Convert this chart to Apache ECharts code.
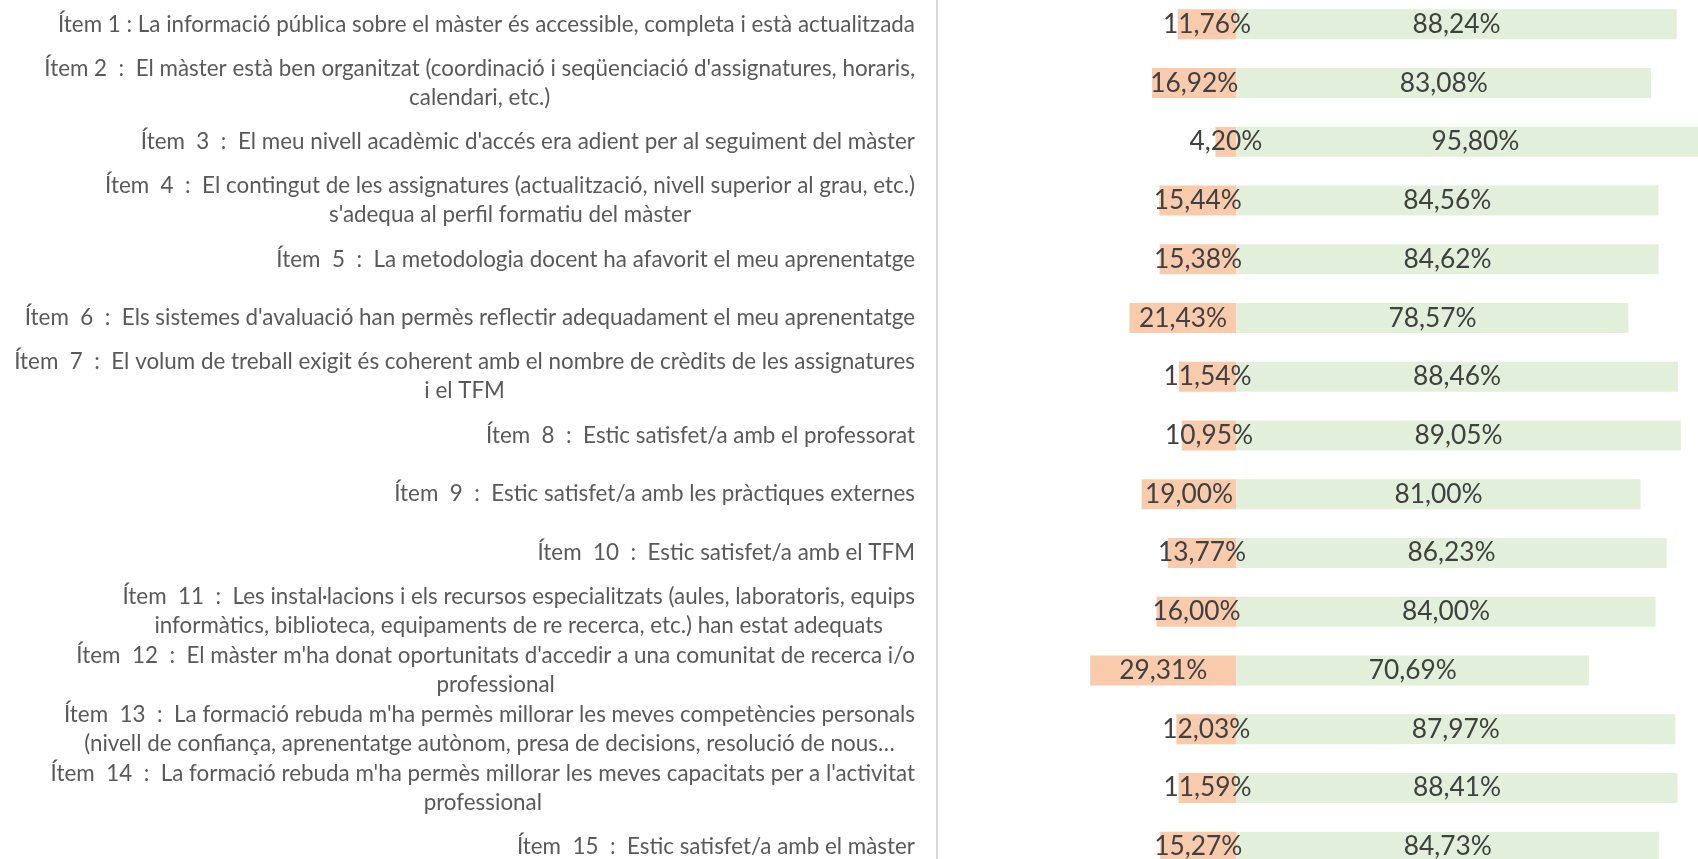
<!DOCTYPE html>
<html>
<head>
<meta charset="utf-8">
<script src="https://cdn.jsdelivr.net/npm/echarts@6/dist/echarts.min.js"></script>
<style>
  html, body { margin: 0; padding: 0; background: #ffffff; }
  #chart { width: 1698px; height: 859px; }
</style>
</head>
<body>
<div id="chart"></div>
<script>
const categories = [
  "Ítem 1 : La informació pública sobre el màster és accessible, completa i està actualitzada",
  "Ítem 2  :  El màster està ben organitzat (coordinació i seqüenciació d'assignatures, horaris,\ncalendari, etc.)",
  "Ítem  3  :  El meu nivell acadèmic d'accés era adient per al seguiment del màster",
  "Ítem  4  :  El contingut de les assignatures (actualització, nivell superior al grau, etc.)\ns'adequa al perfil formatiu del màster",
  "Ítem  5  :  La metodologia docent ha afavorit el meu aprenentatge",
  "Ítem  6  :  Els sistemes d'avaluació han permès reflectir adequadament el meu aprenentatge",
  "Ítem  7  :  El volum de treball exigit és coherent amb el nombre de crèdits de les assignatures\ni el TFM",
  "Ítem  8  :  Estic satisfet/a amb el professorat",
  "Ítem  9  :  Estic satisfet/a amb les pràctiques externes",
  "Ítem  10  :  Estic satisfet/a amb el TFM",
  "Ítem  11  :  Les instal·lacions i els recursos especialitzats (aules, laboratoris, equips\ninformàtics, biblioteca, equipaments de re recerca, etc.) han estat adequats",
  "Ítem  12  :  El màster m'ha donat oportunitats d'accedir a una comunitat de recerca i/o\nprofessional",
  "Ítem  13  :  La formació rebuda m'ha permès millorar les meves competències personals\n(nivell de confiança, aprenentatge autònom, presa de decisions, resolució de nous…",
  "Ítem  14  :  La formació rebuda m'ha permès millorar les meves capacitats per a l'activitat\nprofessional",
  "Ítem  15  :  Estic satisfet/a amb el màster"
];
const negativeValues = [11.76, 16.92, 4.20, 15.44, 15.38, 21.43, 11.54, 10.95, 19.00, 13.77, 16.00, 29.31, 12.03, 11.59, 15.27];
const positiveValues = [88.24, 83.08, 95.80, 84.56, 84.62, 78.57, 88.46, 89.05, 81.00, 86.23, 84.00, 70.69, 87.97, 88.41, 84.73];

// fit font sizes to the reference text widths
const cv = document.createElement('canvas').getContext('2d');
function fitSize(text, family, target) {
  cv.font = '100px ' + family;
  return 100 * target / cv.measureText(text).width;
}
const FAMILY = 'Lato';
const catSize = Math.round(fitSize(categories[0], FAMILY, 858) * 10) / 10;
const valSize = Math.round(fitSize('88,24%', FAMILY, 88) * 10) / 10;

const fmt = v => Math.abs(v).toFixed(2).replace('.', ',') + '%';

const chart = echarts.init(document.getElementById('chart'), null, { renderer: 'canvas' });
chart.setOption({
  backgroundColor: '#ffffff',
  animation: false,
  grid: { left: 937, right: -37.4, top: -5, bottom: -17, containLabel: false, outerBoundsMode: 'none' },
  xAxis: {
    type: 'value', min: -60, max: 100,
    show: false
  },
  yAxis: {
    type: 'category', inverse: true, data: categories,
    axisLine: { show: true, onZero: false, lineStyle: { color: '#d9d9d9', width: 2 } },
    axisTick: { show: false },
    splitLine: { show: false },
    axisLabel: {
      margin: 22,
      align: 'right',
      color: '#595959',
      fontFamily: FAMILY,
      fontSize: catSize,
      lineHeight: 29,
      formatter: v => v.split('\n').map(l => '{c|' + l + '}').join('\n'),
      rich: { c: { align: 'center', fontFamily: FAMILY, fontSize: catSize, lineHeight: 29, color: '#595959' } }
    }
  },
  series: [
    {
      name: 'neg', type: 'bar', stack: 'tot', barWidth: 30,
      data: negativeValues.map(v => -v),
      itemStyle: { color: '#F8CBAD' },
      label: { show: true, position: 'inside', formatter: p => fmt(p.value), color: '#404040', fontFamily: FAMILY, fontSize: valSize }
    },
    {
      name: 'pos', type: 'bar', stack: 'tot', barWidth: 30,
      data: positiveValues,
      itemStyle: { color: '#E2EFDA' },
      label: { show: true, position: 'inside', formatter: p => fmt(p.value), color: '#404040', fontFamily: FAMILY, fontSize: valSize }
    }
  ]
});
</script>
</body>
</html>
